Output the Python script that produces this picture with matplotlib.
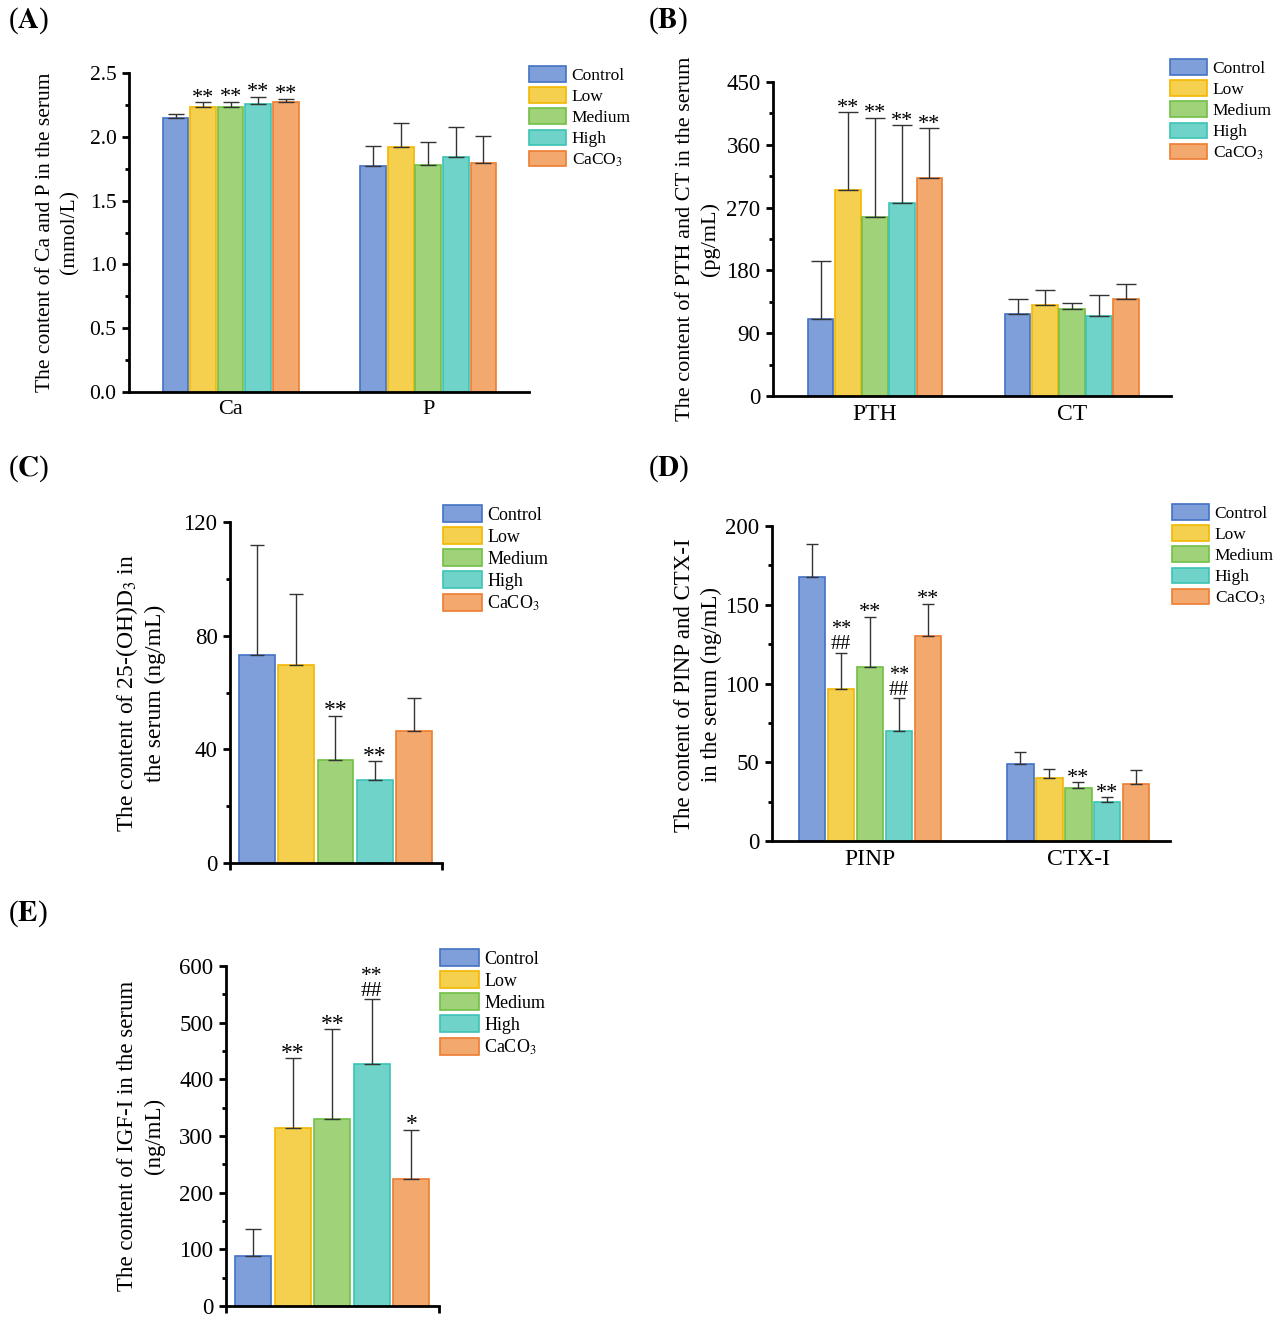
import numpy as np
import matplotlib
matplotlib.use('Agg')
import matplotlib.pyplot as plt
from matplotlib.ticker import MultipleLocator

plt.rcParams['font.family'] = ['Liberation Serif', 'DejaVu Serif']
plt.rcParams['mathtext.fontset'] = 'stix'

W, H = 1276, 1325

# groups and colours
groups = ['Control', 'Low', 'Medium', 'High', 'CaCO$_3$']
fill_colors = ['#7f9fdb', '#f5cf4e', '#a0d27a', '#6fd3c9', '#f3a86e']
edge_colors = ['#4472c4', '#f2b800', '#70bf45', '#3cc3b4', '#ee7d31']

# (A) Ca and P (mmol/L)
a_cats = ['Ca', 'P']
a_mean = [[2.15, 2.235, 2.235, 2.255, 2.27],
          [1.775, 1.917, 1.782, 1.843, 1.793]]
a_sd = [[0.028, 0.034, 0.040, 0.060, 0.030],
        [0.153, 0.188, 0.178, 0.230, 0.217]]
a_stars = [['', '**', '**', '**', '**'], ['', '', '', '', '']]

# (B) PTH and CT (pg/mL)
b_cats = ['PTH', 'CT']
b_mean = [[110, 295, 256, 277, 312],
          [118, 131, 124, 114, 139]]
b_sd = [[83, 112, 143, 111, 72],
        [21, 21, 9, 31, 22]]
b_stars = [['', '**', '**', '**', '**'], ['', '', '', '', '']]

# (C) 25-(OH)D3 (ng/mL)
c_mean = [[73.3, 69.8, 36.4, 29.3, 46.3]]
c_sd = [[38.7, 24.8, 15.5, 6.6, 11.8]]
c_stars = [['', '', '**', '**', '']]

# (D) PINP and CTX-I (ng/mL)
d_cats = ['PINP', 'CTX-I']
d_mean = [[167.6, 96.5, 110.2, 69.8, 130.2],
          [49.1, 40.2, 33.9, 25.0, 36.2]]
d_sd = [[21.2, 23.1, 32.2, 20.8, 20.5],
        [7.6, 5.3, 3.3, 3.0, 9.1]]
d_stars = [['', '**', '**', '**', '**'], ['', '', '**', '**', '']]
d_hash = [['', '##', '', '##', ''], ['', '', '', '', '']]

# (E) IGF-I (ng/mL)
e_mean = [[88, 314.7, 330.6, 427, 224]]
e_sd = [[48.5, 122.9, 158.2, 114.8, 87]]
e_stars = [['', '**', '**', '**', '*']]
e_hash = [['', '', '', '##', '']]

fig = plt.figure(figsize=(W / 100, H / 100), dpi=100)


def add_ax(left, right, bottom, top):
    return fig.add_axes([left / W, 1 - bottom / H, (right - left) / W, (bottom - top) / H])


def draw_panel(ax, cats, means, sds, stars, hashes, pitch, width, xlim, ylim,
               major, minor, tick_size, star_size, capsize, end_ticks=False):
    n = len(means)
    for i in range(5):
        x = np.arange(n) + (i - 2) * pitch
        vals = [m[i] for m in means]
        errs = [s[i] for s in sds]
        ax.bar(x, vals, width, color=fill_colors[i], edgecolor=edge_colors[i],
               linewidth=1.2, label=groups[i], zorder=2)
        ax.errorbar(x, vals, yerr=[np.zeros(n), errs], fmt='none', ecolor='#333333',
                    elinewidth=1.0, capsize=capsize, capthick=1.0, zorder=3)
        for k in range(n):
            top = vals[k] + errs[k]
            if stars[k][i] == '':
                continue
            if hashes is not None and hashes[k][i] != '':
                # stars stacked over hashes as one label
                ax.annotate(stars[k][i] + '\n' + hashes[k][i], xy=(x[k], top),
                            xytext=(0, 2.5), textcoords='offset points', ha='center',
                            va='baseline', ma='center', fontsize=star_size - 1.5,
                            linespacing=0.7)
            else:
                ax.annotate(stars[k][i], xy=(x[k], top), xytext=(0, -0.5),
                            textcoords='offset points', ha='center', va='baseline',
                            fontsize=star_size)
    ax.set_xlim(xlim)
    ax.set_ylim(ylim)
    ax.spines['top'].set_visible(False)
    ax.spines['right'].set_visible(False)
    ax.spines['left'].set_linewidth(2.0)
    ax.spines['bottom'].set_linewidth(2.0)
    ax.yaxis.set_major_locator(MultipleLocator(major))
    ax.yaxis.set_minor_locator(MultipleLocator(minor))
    ax.tick_params(axis='y', which='major', direction='out', length=5, width=2.0,
                   labelsize=tick_size, pad=4)
    ax.tick_params(axis='y', which='minor', direction='out', length=3, width=2.0)
    if end_ticks:
        ax.set_xticks([xlim[0], xlim[1]])
        ax.set_xticklabels(['', ''])
        ax.tick_params(axis='x', direction='out', length=5, width=2.0)
    else:
        ax.set_xticks(np.arange(n))
        ax.set_xticklabels(cats)
        ax.tick_params(axis='x', length=0, labelsize=tick_size + 0.5, pad=6)


def add_legend(ax, left, top, size, hlen, hheight):
    ax.legend(loc='upper left', bbox_to_anchor=(left / W, 1 - top / H),
              bbox_transform=fig.transFigure, frameon=False, borderpad=0,
              borderaxespad=0, fontsize=size, handlelength=hlen, handleheight=hheight,
              labelspacing=0.2, handletextpad=0.3)


def add_ylabel(x, y, text, size):
    fig.text(x / W, 1 - y / H, text, rotation=90, ha='center', va='center',
             ma='center', fontsize=size, linespacing=1.35)


def add_letter(x, y, letter):
    fig.text(x / W, 1 - y / H, '($\\mathbf{' + letter + '}$)', ha='left', va='top',
             fontsize=21)


# Panel A
ax_a = add_ax(129, 529, 392, 73)
draw_panel(ax_a, a_cats, a_mean, a_sd, a_stars, None, 0.139, 0.131,
           (-0.513, 1.508), (0, 2.5), 0.5, 0.25, 15.5, 16, 6)
add_legend(ax_a, 529, 66, 12.5, 2.15, 1.0)
add_ylabel(58, 232, 'The content of Ca and P in the serum\n(mmol/L)', 15.5)
add_letter(8, 5, 'A')

# Panel B
ax_b = add_ax(773, 1171, 396, 82)
draw_panel(ax_b, b_cats, b_mean, b_sd, b_stars, None, 0.138, 0.13,
           (-0.518, 1.503), (0, 450), 90, 45, 16.5, 16, 7)
add_legend(ax_b, 1170, 59, 12.5, 2.15, 1.0)
add_ylabel(698, 239, 'The content of PTH and CT in the serum\n(pg/mL)', 16)
add_letter(648, 5, 'B')

# Panel C
ax_c = add_ax(230, 442, 863, 522)
draw_panel(ax_c, [''], c_mean, c_sd, c_stars, None, 1.0, 0.91,
           (-2.68, 2.71), (0, 120), 40, 20, 16.5, 17, 5, end_ticks=True)
add_legend(ax_c, 443, 505, 13, 2.15, 1.05)
add_ylabel(140, 693, 'The content of 25-(OH)D$_3$ in\nthe serum (ng/mL)', 17)
add_letter(8, 453, 'C')

# Panel D
ax_d = add_ax(772, 1170, 841, 526)
draw_panel(ax_d, d_cats, d_mean, d_sd, d_stars, d_hash, 0.139, 0.127,
           (-0.469, 1.44), (0, 200), 50, 25, 16.5, 16, 4.5)
add_legend(ax_d, 1172, 504, 12.5, 2.15, 1.0)
add_ylabel(698, 685, 'The content of PINP and CTX-I\nin the serum (ng/mL)', 16.5)
add_letter(648, 453, 'D')

# Panel E
ax_e = add_ax(226, 439, 1306, 966)
draw_panel(ax_e, [''], e_mean, e_sd, e_stars, e_hash, 1.0, 0.91,
           (-2.69, 2.70), (0, 600), 100, 50, 16.5, 17, 6, end_ticks=True)
add_legend(ax_e, 440, 949, 13, 2.15, 1.05)
add_ylabel(141, 1136, 'The content of IGF-I in the serum\n(ng/mL)', 16.5)
add_letter(8, 898, 'E')

fig.savefig('out.png', dpi=100)
